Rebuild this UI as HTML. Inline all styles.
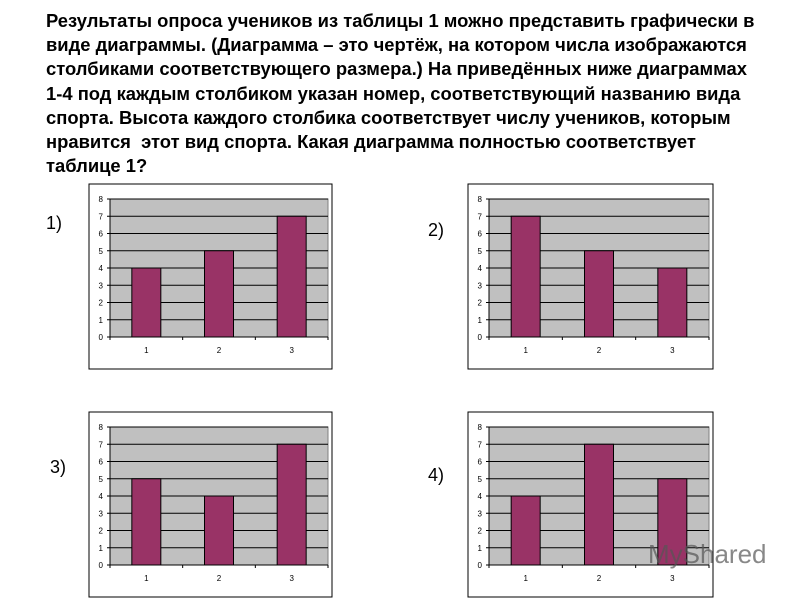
<!DOCTYPE html>
<html><head><meta charset="utf-8">
<style>
body{margin:0;width:800px;height:600px;background:#fff;overflow:hidden;position:relative;font-family:"Liberation Sans",sans-serif}
#txt{position:absolute;left:46px;top:9px;font-weight:bold;font-size:18.4px;line-height:24.2px;color:#000;white-space:nowrap}
.lab{position:absolute;font-size:18px;color:#000}
svg{position:absolute;left:0;top:0}
</style></head><body>
<div id="txt">Результаты опроса учеников из таблицы 1 можно представить графически в<br>виде диаграммы. (Диаграмма – это чертёж, на котором числа изображаются<br>столбиками соответствующего размера.) На приведённых ниже диаграммах<br>1-4 под каждым столбиком указан номер, соответствующий названию вида<br>спорта. Высота каждого столбика соответствует числу учеников, которым<br>нравится&nbsp; этот вид спорта. Какая диаграмма полностью соответствует<br>таблице 1?</div>
<div class="lab" style="left:46px;top:213px">1)</div>
<div class="lab" style="left:428px;top:220px">2)</div>
<div class="lab" style="left:50px;top:457px">3)</div>
<div class="lab" style="left:428px;top:465px">4)</div>
<svg id="s" width="800" height="600"></svg>
<script>
const categories=["1","2","3"];
const chart1=[4,5,7];
const chart2=[7,5,4];
const chart3=[5,4,7];
const chart4=[4,7,5];
const yTicks=[0,1,2,3,4,5,6,7,8];
const NS="http://www.w3.org/2000/svg";
const svg=document.getElementById('s');
function mk(t,a,p){const e=document.createElementNS(NS,t);for(const k in a)e.setAttribute(k,a[k]);(p||svg).appendChild(e);return e;}
function chart(ox,oy,w,vals,name){
  const g=mk('g',{});
  
  
  mk('rect',{x:ox,y:oy,width:w,height:185,fill:'#fff',stroke:'#000','stroke-width':1},g);
  const L=ox+21,R=ox+w-4,T=oy+15,B=oy+153;
  const y=v=>B-(v/8)*(B-T);
  const cw=(R-L)/categories.length;
  const x=i=>L+cw*(i+0.5);
  mk('rect',{x:L,y:T,width:R-L,height:B-T,fill:'#c0c0c0',stroke:'#808080'},g);
  yTicks.forEach(t=>{
    if(t>0) mk('line',{x1:L,x2:R,y1:y(t),y2:y(t),stroke:'#000','stroke-width':1},g);
    mk('line',{x1:L-3,x2:L,y1:y(t),y2:y(t),stroke:'#000'},g);
    const tx=mk('text',{x:L-7,y:y(t)+3,'font-size':8,'text-anchor':'end','font-family':'Liberation Sans'},g);tx.textContent=t;
  });
  vals.forEach((v,i)=>{
    const b=mk('rect',{x:x(i)-14.5,y:y(v),width:29,height:B-y(v),fill:'#993366',stroke:'#000','stroke-width':1},g);
    
    
    const tx=mk('text',{x:x(i),y:B+16,'font-size':8,'text-anchor':'middle','font-family':'Liberation Sans'},g);tx.textContent=categories[i];
  });
  mk('line',{x1:L,x2:L,y1:T,y2:B,stroke:'#000'},g);
  mk('line',{x1:L,x2:R,y1:B,y2:B,stroke:'#000'},g);
  for(let i=0;i<=categories.length;i++) mk('line',{x1:L+cw*i,x2:L+cw*i,y1:B,y2:B+3,stroke:'#000'},g);
}
chart(89,184,243,chart1,'chart-1');
chart(468,184,245,chart2,'chart-2');
chart(89,412,243,chart3,'chart-3');
chart(468,412,245,chart4,'chart-4');
const wm=mk('text',{x:648,y:563,'font-size':26,fill:'#555','fill-opacity':0.7,'font-family':'Liberation Sans'});


wm.textContent='MyShared';
</script>
</body></html>
